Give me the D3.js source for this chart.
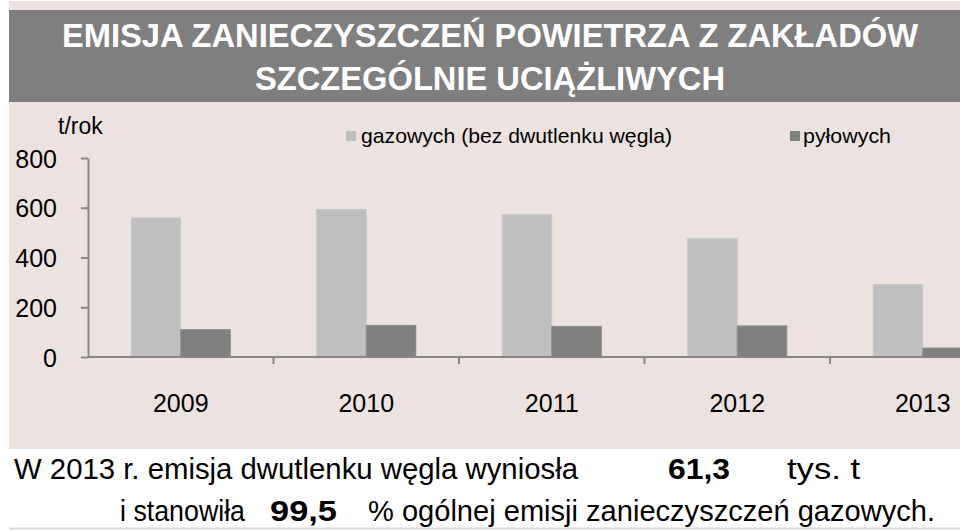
<!DOCTYPE html>
<html>
<head>
<meta charset="utf-8">
<script src="https://cdn.jsdelivr.net/npm/d3@7"></script>
<style>
  body { margin: 0; background: #ffffff; }
  svg { display: block; font-family: Arial, "Liberation Sans", sans-serif; }
</style>
</head>
<body>
<svg id="chart" width="960" height="531"></svg>
<script>
// Data:
var YEARS = ["2009", "2010", "2011", "2012", "2013"];
var SERIES = ["gazowych (bez dwutlenku węgla)", "pyłowych"];
var GAZOWE = [559, 593, 573, 477, 291];
var PYLOWE = [110, 127, 123, 125, 36];
var Y_TICKS = [0, 200, 400, 600, 800];
var TITLE = ["EMISJA ZANIECZYSZCZEŃ POWIETRZA Z ZAKŁADÓW", "SZCZEGÓLNIE UCIĄŻLIWYCH"];

var COLORS = ["#bfbfbf", "#7f7f7f"];
var PINK = "#ece3e1";

var svg = d3.select("#chart");

// backgrounds
svg.append("rect").attr("x", 9).attr("y", 1).attr("width", 951).attr("height", 448).attr("fill", PINK);
svg.append("rect").attr("x", 9).attr("y", 10).attr("width", 951).attr("height", 92).attr("fill", "#7f7f7f");
svg.append("line").attr("x1", 9).attr("x2", 960).attr("y1", 528.5).attr("y2", 528.5)
  .attr("stroke", "#d9d9d9").attr("stroke-width", 2);

// title
svg.selectAll(".title").data(TITLE).enter().append("text")
  .attr("class", "title")
  .attr("x", 490)
  .attr("y", function (d, i) { return 47 + i * 43; })
  .attr("text-anchor", "middle")
  .attr("fill", "#ffffff")
  .attr("font-weight", "bold")
  .attr("font-size", 34)
  .attr("textLength", function (d, i) { return i == 0 ? 856 : 470; })
  .attr("lengthAdjust", "spacingAndGlyphs")
  .text(function (d) { return d; });

// scales
var x = d3.scaleBand().domain(YEARS).range([88, 88 + 5 * 185.5]).padding(0);
var bw = x.bandwidth();
var xs = d3.scaleBand().domain([0, 1]).range([bw * 0.233, bw * 0.767]).padding(0);
var y = d3.scaleLinear().domain([0, 800]).range([357, 158]);

var rows = YEARS.map(function (yr, i) { return { year: yr, vals: [GAZOWE[i], PYLOWE[i]] }; });

// bars
var groups = svg.append("g").selectAll("g").data(rows).enter().append("g")
  .attr("transform", function (d) { return "translate(" + x(d.year) + ",0)"; });
groups.selectAll("rect").data(function (d) { return d.vals; }).enter().append("rect")
  .attr("x", function (d, i) { return xs(i); })
  .attr("y", function (d) { return y(d); })
  .attr("width", xs.bandwidth())
  .attr("height", function (d) { return y(0) - y(d); })
  .attr("fill", function (d, i) { return COLORS[i]; })
  .attr("stroke", function (d, i) { return i == 0 ? "#c8c8c8" : "#8a8a8a"; })
  .attr("stroke-width", 1);

// y axis
var yAxis = svg.append("g")
  .attr("transform", "translate(88,0)")
  .call(d3.axisLeft(y).tickValues(Y_TICKS).tickSize(7).tickSizeOuter(0).tickPadding(30));
yAxis.selectAll("text").attr("font-size", 25).attr("fill", "#000").attr("font-family", "Arial, 'Liberation Sans', sans-serif")
  .attr("x", -31).attr("dy", "0.36em");
yAxis.selectAll("line").attr("stroke", "#878787").attr("stroke-width", 2);
yAxis.select(".domain").attr("stroke", "#878787").attr("stroke-width", 2);

// x axis (ticks between categories)
var xAxis = svg.append("g").attr("transform", "translate(0," + y(0) + ")");
xAxis.append("line").attr("x1", 88).attr("x2", 960).attr("stroke", "#878787").attr("stroke-width", 2);
xAxis.selectAll(".tk").data(YEARS).enter().append("line")
  .attr("class", "tk")
  .attr("x1", function (d) { return x(d) + bw; })
  .attr("x2", function (d) { return x(d) + bw; })
  .attr("y1", 0).attr("y2", 7)
  .attr("stroke", "#878787").attr("stroke-width", 2);
xAxis.selectAll(".lbl").data(YEARS).enter().append("text")
  .attr("class", "lbl")
  .attr("x", function (d) { return x(d) + bw / 2; })
  .attr("y", 55)
  .attr("text-anchor", "middle")
  .attr("font-size", 25)
  .text(function (d) { return d; });

// unit label
svg.append("text").attr("x", 58).attr("y", 134).attr("font-size", 23).text("t/rok");

// legend
var legX = [346, 790];
var legW = [311, 88];
var leg = svg.append("g").selectAll("g").data(SERIES).enter().append("g")
  .attr("transform", function (d, i) { return "translate(" + legX[i] + ",131)"; });
leg.append("rect").attr("width", 10).attr("height", 10)
  .attr("fill", function (d, i) { return COLORS[i]; });
leg.append("text").attr("x", function (d, i) { return i == 0 ? 15 : 13; }).attr("y", 12)
  .attr("font-size", 21)
  .attr("textLength", function (d, i) { return legW[i]; })
  .attr("lengthAdjust", "spacingAndGlyphs")
  .text(function (d) { return d; });

// notes below chart
var NOTES = [
  { t: "W 2013 r. emisja dwutlenku węgla wyniosła", x: 14, y: 479, w: 564, b: false },
  { t: "61,3", x: 668, y: 479, w: 62, b: true },
  { t: "tys. t", x: 787, y: 479, w: 73, b: false },
  { t: "i stanowiła", x: 120, y: 521, w: 125, b: false },
  { t: "99,5", x: 270, y: 521, w: 67, b: true },
  { t: "% ogólnej emisji zanieczyszczeń gazowych.", x: 368, y: 521, w: 567, b: false }
];
svg.selectAll(".note").data(NOTES).enter().append("text")
  .attr("class", "note")
  .attr("x", function (d) { return d.x; })
  .attr("y", function (d) { return d.y; })
  .attr("font-size", 29)
  .attr("font-weight", function (d) { return d.b ? "bold" : "normal"; })
  .attr("textLength", function (d) { return d.w; })
  .attr("lengthAdjust", "spacingAndGlyphs")
  .text(function (d) { return d.t; });
</script>
</body>
</html>
